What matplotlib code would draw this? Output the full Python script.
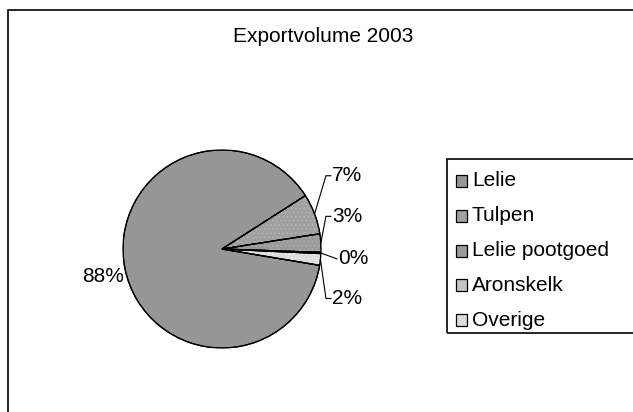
import numpy as np
import matplotlib
matplotlib.use("Agg")
import matplotlib.pyplot as plt
from matplotlib.patches import Rectangle, Wedge

plt.rcParams['font.family'] = ['Liberation Sans', 'DejaVu Sans']

title = "Exportvolume 2003"
categories = ["Lelie", "Tulpen", "Lelie pootgoed", "Aronskelk", "Overige"]
shares = [88.3, 6.6, 3.0, 0.2, 1.9]

face_colors = ["#969696", "#a0a0a0", "#9a9a9a", "#c4c4c4", "#dcdcdc"]
dot_colors = [None, "#b4b4b4", "#acacac", None, "#eaeaea"]
# label y for the small slices (pie radius = 1)
small_label_y = [None, 0.74, 0.33, -0.10, -0.50]

W, H = 633, 412
fig = plt.figure(figsize=(W / 100, H / 100), dpi=100)

# outer chart frame (runs off the right and bottom edge)
fig.patches.append(Rectangle((8 / W, -0.05), 1.0, 1 - 10 / H + 0.05,
                             transform=fig.transFigure, fill=False,
                             edgecolor="black", lw=1.2))

fig.text(323 / W, 1 - 36 / H, title, ha="center", va="center", fontsize=15)

cx, cy, r = 222, 249, 99
ax = fig.add_axes([(cx - r) / W, (H - cy - r) / H, 2 * r / W, 2 * r / H])
plt.rcParams['hatch.linewidth'] = 0.7
wedges, _ = ax.pie(shares, colors=face_colors, startangle=-9.5,
                   counterclock=False,
                   wedgeprops=dict(edgecolor="black", linewidth=0.9))
ax.set_xlim(-1, 1)
ax.set_ylim(-1, 1)
ax.set_aspect("equal")
ax.axis("off")

# dotted fill pattern on some slices
for w, dc in zip(wedges, dot_colors):
    if dc is None:
        continue
    ax.add_patch(Wedge(w.center, w.r, w.theta1, w.theta2, facecolor="none",
                       edgecolor=dc, lw=0, hatch="...."))
for w in wedges:
    ax.add_patch(Wedge(w.center, w.r, w.theta1, w.theta2, facecolor="none",
                       edgecolor="black", lw=0.9, zorder=4))

# labels
for w, val, ly in zip(wedges, shares, small_label_y):
    mid = np.deg2rad((w.theta1 + w.theta2) / 2)
    txt = "%.0f%%" % val
    if ly is None:
        ax.text(1.23 * np.cos(mid), 1.23 * np.sin(mid) - 0.03, txt,
                ha="center", va="center", fontsize=15)
        continue
    ax_, ay_ = np.cos(mid), np.sin(mid)
    if abs(ly - ay_) < 0.1:
        xs, ys = [ax_, 1.16], [ay_, ly]
        tx = 1.17
    else:
        xs, ys = [ax_, 1.05, 1.10], [ay_, ly, ly]
        tx = 1.11
    ax.plot(xs, ys, color="black", lw=0.8, clip_on=False)
    ax.text(tx, ly, txt, ha="left", va="center", fontsize=15)

# legend box (runs off the right edge)
fig.patches.append(Rectangle((447 / W, 1 - 333 / H), 1.0, (333 - 159) / H,
                             transform=fig.transFigure, fill=False,
                             edgecolor="black", lw=1.2))
for i, (name, fc, dc) in enumerate(zip(categories, face_colors, dot_colors)):
    yc = 181 + 34.8 * i
    fig.patches.append(Rectangle((456 / W, 1 - (yc + 6) / H), 11 / W, 12 / H,
                                 transform=fig.transFigure, facecolor=fc,
                                 edgecolor="black", lw=0.9))
    fig.text(472 / W, 1 - yc / H, name, ha="left", va="center", fontsize=15)

fig.savefig("out.png", dpi=100)
